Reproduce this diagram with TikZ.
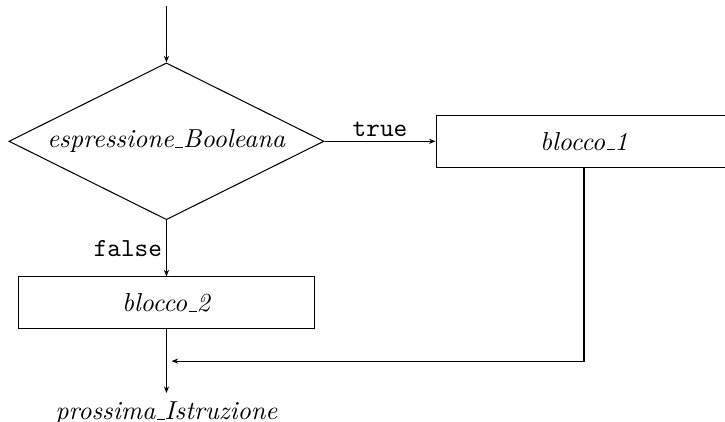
\documentclass[tikz,border=0pt]{standalone}
\usepackage{tikz}
\newcommand{\blockwidth}{4cm}
\newcommand{\blockheight}{0.7cm}
\newcommand{\uscore}{\leavevmode\kern.06em\vbox{\hrule width.3em}}
\usetikzlibrary{arrows.meta,calc,positioning,shapes.geometric}
\tikzset{
  >={Stealth[length=2.5pt,width=2pt]},
  node distance=0.76cm,
  block/.style={draw,shape=rectangle,minimum width=\blockwidth,minimum height=\blockheight,inner sep=1mm},
  decision/.style={draw,shape=diamond,aspect=2,minimum width=4.26cm,minimum height=2.12cm,inner sep=0},
  line/.style={draw,->},
  lab/.style={inner sep=1.5pt,font=\ttfamily},
}
\begin{document}
\begin{tikzpicture}
      \useasboundingbox (-2.25,-3.79) rectangle (7.55,1.91);
      \node (cond) [decision] {\textit{espressione\uscore Booleana}};
      \coordinate [above=0.76cm of cond.north] (start);
      \node (b1) [block,right=1.5cm of cond] {\textit{blocco\uscore 1}};
      \node (b2) [block,below=of cond] {\textit{blocco\uscore 2}};
      \node (next) [below=0.86cm of b2,inner sep=0.333em] {\textit{prossima\uscore Istruzione}};
      \coordinate [below=0.43cm of b2.south] (join);
      \coordinate (merge) at ($(join)+(0.07,0)$);
      \path [line] (start) -- (cond);
      \path [line] (cond) -- (b1) node[midway,above,lab]{true};
      \path [line] (cond) -- (b2) node[midway,left,lab]{false};
      \path [line] (b2) -- (next);
      \path [line] (b1) |- (merge);
    \end{tikzpicture}
\end{document}
